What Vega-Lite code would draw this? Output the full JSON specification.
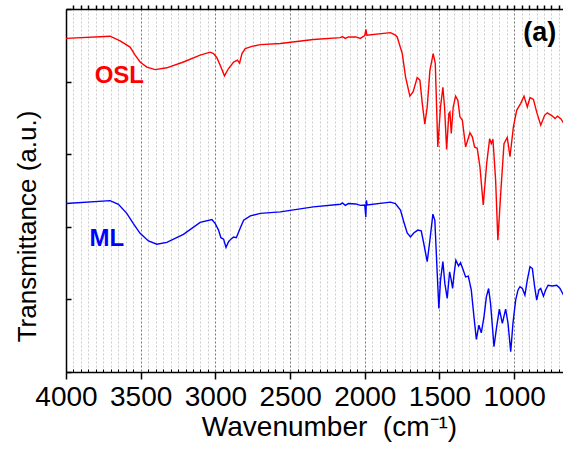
{
  "$schema": "https://vega.github.io/schema/vega-lite/v6.json",
  "width": 497,
  "height": 363,
  "autosize": "none",
  "padding": {"left": 66, "top": 9, "right": 0, "bottom": 78},
  "background": "white",
  "config": {"view": {"stroke": null}, "font": "Liberation Sans"},
  "datasets": {
    "spectra": [
      {"s":"OSL","wn":4000,"t":91.9},{"s":"OSL","wn":3705,"t":92.5},{"s":"OSL","wn":3638,"t":91.2},{"s":"OSL","wn":3571,"t":89.5},{"s":"OSL","wn":3537,"t":87.3},{"s":"OSL","wn":3504,"t":85.4},{"s":"OSL","wn":3459,"t":84.0},{"s":"OSL","wn":3403,"t":83.3},{"s":"OSL","wn":3325,"t":83.8},{"s":"OSL","wn":3214,"t":85.4},{"s":"OSL","wn":3102,"t":87.3},{"s":"OSL","wn":3035,"t":88.1},{"s":"OSL","wn":3013,"t":87.7},{"s":"OSL","wn":2990,"t":86.6},{"s":"OSL","wn":2968,"t":84.5},{"s":"OSL","wn":2939,"t":81.6},{"s":"OSL","wn":2912,"t":83.6},{"s":"OSL","wn":2878,"t":85.4},{"s":"OSL","wn":2852,"t":85.9},{"s":"OSL","wn":2838,"t":85.1},{"s":"OSL","wn":2822,"t":87.7},{"s":"OSL","wn":2800,"t":89.1},{"s":"OSL","wn":2755,"t":89.7},{"s":"OSL","wn":2699,"t":90.2},{"s":"OSL","wn":2565,"t":90.5},{"s":"OSL","wn":2344,"t":91.6},{"s":"OSL","wn":2163,"t":92.1},{"s":"OSL","wn":2150,"t":92.4},{"s":"OSL","wn":2130,"t":91.9},{"s":"OSL","wn":2110,"t":92.3},{"s":"OSL","wn":2060,"t":92.3},{"s":"OSL","wn":2030,"t":91.9},{"s":"OSL","wn":2000,"t":92.7},{"s":"OSL","wn":1992,"t":94.4},{"s":"OSL","wn":1986,"t":92.8},{"s":"OSL","wn":1828,"t":93.5},{"s":"OSL","wn":1795,"t":92.8},{"s":"OSL","wn":1783,"t":92.3},{"s":"OSL","wn":1749,"t":87.7},{"s":"OSL","wn":1727,"t":81.3},{"s":"OSL","wn":1698,"t":76.0},{"s":"OSL","wn":1676,"t":77.2},{"s":"OSL","wn":1649,"t":81.1},{"s":"OSL","wn":1631,"t":80.4},{"s":"OSL","wn":1615,"t":74.0},{"s":"OSL","wn":1598,"t":68.3},{"s":"OSL","wn":1582,"t":73.0},{"s":"OSL","wn":1564,"t":83.1},{"s":"OSL","wn":1542,"t":87.7},{"s":"OSL","wn":1528,"t":85.0},{"s":"OSL","wn":1511,"t":62.0},{"s":"OSL","wn":1493,"t":73.0},{"s":"OSL","wn":1477,"t":78.4},{"s":"OSL","wn":1466,"t":73.0},{"s":"OSL","wn":1452,"t":61.3},{"s":"OSL","wn":1437,"t":71.2},{"s":"OSL","wn":1430,"t":71.6},{"s":"OSL","wn":1421,"t":65.7},{"s":"OSL","wn":1408,"t":73.0},{"s":"OSL","wn":1392,"t":76.0},{"s":"OSL","wn":1377,"t":74.9},{"s":"OSL","wn":1363,"t":70.3},{"s":"OSL","wn":1347,"t":69.4},{"s":"OSL","wn":1325,"t":62.0},{"s":"OSL","wn":1296,"t":65.9},{"s":"OSL","wn":1280,"t":64.8},{"s":"OSL","wn":1265,"t":62.0},{"s":"OSL","wn":1247,"t":61.6},{"s":"OSL","wn":1229,"t":56.5},{"s":"OSL","wn":1207,"t":46.0},{"s":"OSL","wn":1184,"t":57.4},{"s":"OSL","wn":1164,"t":64.3},{"s":"OSL","wn":1153,"t":62.9},{"s":"OSL","wn":1142,"t":64.1},{"s":"OSL","wn":1124,"t":52.8},{"s":"OSL","wn":1109,"t":36.3},{"s":"OSL","wn":1090,"t":49.2},{"s":"OSL","wn":1068,"t":62.9},{"s":"OSL","wn":1046,"t":64.6},{"s":"OSL","wn":1028,"t":59.3},{"s":"OSL","wn":1005,"t":67.5},{"s":"OSL","wn":983,"t":72.1},{"s":"OSL","wn":956,"t":74.0},{"s":"OSL","wn":934,"t":76.0},{"s":"OSL","wn":912,"t":73.0},{"s":"OSL","wn":894,"t":75.6},{"s":"OSL","wn":871,"t":75.1},{"s":"OSL","wn":849,"t":71.6},{"s":"OSL","wn":822,"t":68.0},{"s":"OSL","wn":796,"t":70.7},{"s":"OSL","wn":778,"t":71.4},{"s":"OSL","wn":744,"t":70.5},{"s":"OSL","wn":726,"t":69.8},{"s":"OSL","wn":710,"t":70.5},{"s":"OSL","wn":688,"t":69.8},{"s":"OSL","wn":670,"t":68.6},
      {"s":"ML","wn":4000,"t":46.4},{"s":"ML","wn":3705,"t":47.2},{"s":"ML","wn":3649,"t":46.2},{"s":"ML","wn":3593,"t":43.7},{"s":"ML","wn":3549,"t":40.9},{"s":"ML","wn":3504,"t":38.2},{"s":"ML","wn":3448,"t":36.1},{"s":"ML","wn":3392,"t":35.2},{"s":"ML","wn":3325,"t":35.7},{"s":"ML","wn":3214,"t":37.9},{"s":"ML","wn":3102,"t":41.2},{"s":"ML","wn":3023,"t":42.0},{"s":"ML","wn":3001,"t":40.9},{"s":"ML","wn":2979,"t":39.1},{"s":"ML","wn":2963,"t":37.0},{"s":"ML","wn":2945,"t":36.6},{"s":"ML","wn":2929,"t":34.3},{"s":"ML","wn":2912,"t":35.9},{"s":"ML","wn":2896,"t":36.6},{"s":"ML","wn":2878,"t":37.2},{"s":"ML","wn":2860,"t":37.0},{"s":"ML","wn":2834,"t":39.6},{"s":"ML","wn":2811,"t":41.8},{"s":"ML","wn":2766,"t":43.0},{"s":"ML","wn":2699,"t":43.7},{"s":"ML","wn":2565,"t":44.1},{"s":"ML","wn":2344,"t":45.5},{"s":"ML","wn":2163,"t":46.2},{"s":"ML","wn":2150,"t":46.6},{"s":"ML","wn":2130,"t":45.9},{"s":"ML","wn":2110,"t":46.4},{"s":"ML","wn":2060,"t":46.3},{"s":"ML","wn":2030,"t":45.9},{"s":"ML","wn":2000,"t":46.0},{"s":"ML","wn":1993,"t":42.7},{"s":"ML","wn":1989,"t":47.3},{"s":"ML","wn":1984,"t":46.0},{"s":"ML","wn":1828,"t":46.8},{"s":"ML","wn":1795,"t":46.4},{"s":"ML","wn":1761,"t":44.6},{"s":"ML","wn":1739,"t":41.4},{"s":"ML","wn":1716,"t":38.3},{"s":"ML","wn":1694,"t":37.2},{"s":"ML","wn":1672,"t":38.3},{"s":"ML","wn":1645,"t":39.1},{"s":"ML","wn":1622,"t":38.9},{"s":"ML","wn":1605,"t":35.4},{"s":"ML","wn":1582,"t":30.4},{"s":"ML","wn":1564,"t":36.3},{"s":"ML","wn":1544,"t":43.5},{"s":"ML","wn":1531,"t":41.8},{"s":"ML","wn":1515,"t":27.2},{"s":"ML","wn":1504,"t":17.5},{"s":"ML","wn":1493,"t":25.3},{"s":"ML","wn":1477,"t":30.4},{"s":"ML","wn":1464,"t":24.4},{"s":"ML","wn":1448,"t":20.3},{"s":"ML","wn":1432,"t":27.6},{"s":"ML","wn":1421,"t":25.3},{"s":"ML","wn":1412,"t":23.0},{"s":"ML","wn":1403,"t":26.7},{"s":"ML","wn":1390,"t":30.8},{"s":"ML","wn":1372,"t":29.2},{"s":"ML","wn":1359,"t":30.1},{"s":"ML","wn":1341,"t":28.1},{"s":"ML","wn":1325,"t":26.2},{"s":"ML","wn":1307,"t":26.4},{"s":"ML","wn":1287,"t":22.6},{"s":"ML","wn":1269,"t":15.2},{"s":"ML","wn":1253,"t":9.0},{"s":"ML","wn":1236,"t":12.9},{"s":"ML","wn":1220,"t":10.8},{"s":"ML","wn":1202,"t":15.2},{"s":"ML","wn":1186,"t":20.7},{"s":"ML","wn":1171,"t":23.0},{"s":"ML","wn":1158,"t":18.9},{"s":"ML","wn":1135,"t":7.0},{"s":"ML","wn":1117,"t":12.5},{"s":"ML","wn":1099,"t":17.3},{"s":"ML","wn":1079,"t":13.4},{"s":"ML","wn":1057,"t":17.3},{"s":"ML","wn":1041,"t":13.4},{"s":"ML","wn":1023,"t":5.6},{"s":"ML","wn":1008,"t":13.4},{"s":"ML","wn":990,"t":19.8},{"s":"ML","wn":974,"t":22.6},{"s":"ML","wn":961,"t":23.5},{"s":"ML","wn":945,"t":23.0},{"s":"ML","wn":928,"t":21.2},{"s":"ML","wn":912,"t":25.3},{"s":"ML","wn":894,"t":29.0},{"s":"ML","wn":878,"t":28.5},{"s":"ML","wn":863,"t":23.5},{"s":"ML","wn":849,"t":19.8},{"s":"ML","wn":834,"t":22.6},{"s":"ML","wn":822,"t":23.0},{"s":"ML","wn":804,"t":20.9},{"s":"ML","wn":789,"t":22.6},{"s":"ML","wn":773,"t":23.9},{"s":"ML","wn":744,"t":23.7},{"s":"ML","wn":715,"t":23.9},{"s":"ML","wn":693,"t":23.0},{"s":"ML","wn":670,"t":21.2}
    ],
    "labels": [
      {"s":"OSL","wn":3643,"t":81.5},
      {"s":"ML","wn":3727,"t":36.6}
    ],
    "panel": [
      {"s":"(a)","wn":828,"t":93.3}
    ]
  },
  "encoding": {
    "y": {
      "field": "t", "type": "quantitative",
      "scale": {"domain": [0, 100], "nice": false, "zero": false},
      "axis": {
        "orient": "left", "values": [0, 20, 40, 60, 80, 100],
        "labels": false, "grid": false, "tickSize": -5, "tickColor": "black", "tickWidth": 1.5,
        "domainColor": "black", "domainWidth": 1.5,
        "title": "Transmittance (a.u.)", "titleFont": "Liberation Sans", "titleFontSize": 26,
        "titleFontWeight": "normal", "titleColor": "black",
        "titleAngle": -90, "titleBaseline": "alphabetic", "titleAlign": "center",
        "titleX": -31, "titleY": 217
      }
    }
  },
  "layer": [
    {
      "data": {"name": "spectra"},
      "mark": {"type": "line", "strokeWidth": 1.4, "clip": true},
      "encoding": {
        "x": {
          "field": "wn", "type": "quantitative",
          "scale": {"domain": [673, 4000], "reverse": true, "nice": false, "zero": false},
          "axis": {
            "orient": "bottom",
            "values": [1000, 1500, 2000, 2500, 3000, 3500, 4000],
            "format": "d",
            "labelFont": "Liberation Sans", "labelFontSize": 28, "labelColor": "black",
            "labelPadding": 4, "labelOverlap": false, "labelFlush": false, "labelBound": false,
            "tickSize": 7, "tickColor": "black", "tickWidth": 1.5,
            "domainColor": "black", "domainWidth": 1.5,
            "grid": true, "gridColor": "#777777", "gridDash": [2, 2], "gridWidth": 1,
            "title": "Wavenumber\u00a0\u00a0(cm⁻¹)", "titleFont": "Liberation Sans", "titleFontSize": 28,
            "titleFontWeight": "normal", "titleColor": "black",
            "titleBaseline": "alphabetic", "titleAlign": "center", "titleX": 263, "titleY": 63
          }
        },
        "color": {
          "field": "s", "type": "nominal",
          "scale": {"domain": ["OSL", "ML"], "range": ["#ff0000", "#0000ff"]},
          "legend": null
        }
      }
    },
    {
      "data": {"name": "labels"},
      "mark": {"type": "text", "font": "Liberation Sans", "fontWeight": "bold", "fontSize": 24, "align": "center", "baseline": "middle"},
      "encoding": {
        "x": {
          "field": "wn", "type": "quantitative",
          "scale": {"domain": [673, 4000], "reverse": true, "nice": false, "zero": false},
          "axis": {
            "orient": "bottom",
            "values": [700,750,800,850,900,950,1050,1100,1150,1200,1250,1300,1350,1400,1450,1550,1600,1650,1700,1750,1800,1850,1900,1950,2050,2100,2150,2200,2250,2300,2350,2400,2450,2550,2600,2650,2700,2750,2800,2850,2900,2950,3050,3100,3150,3200,3250,3300,3350,3400,3450,3550,3600,3650,3700,3750,3800,3850,3900,3950],
            "labels": false, "domain": false,
            "tickSize": -3, "tickColor": "black", "tickWidth": 1,
            "grid": true, "gridColor": "#cccccc", "gridDash": [2, 2], "gridWidth": 1,
            "title": null
          }
        },
        "text": {"field": "s"},
        "color": {
          "field": "s", "type": "nominal",
          "scale": {"domain": ["OSL", "ML"], "range": ["#ff0000", "#0000ff"]},
          "legend": null
        }
      }
    },
    {
      "data": {"name": "panel"},
      "mark": {"type": "text", "font": "Liberation Sans", "fontWeight": "bold", "fontSize": 27, "align": "center", "baseline": "middle", "color": "black"},
      "encoding": {
        "x": {
          "field": "wn", "type": "quantitative",
          "scale": {"domain": [673, 4000], "reverse": true, "nice": false, "zero": false},
          "axis": {
            "orient": "top",
            "values": [700,750,800,850,900,950,1000,1050,1100,1150,1200,1250,1300,1350,1400,1450,1500,1550,1600,1650,1700,1750,1800,1850,1900,1950,2000,2050,2100,2150,2200,2250,2300,2350,2400,2450,2500,2550,2600,2650,2700,2750,2800,2850,2900,2950,3000,3050,3100,3150,3200,3250,3300,3350,3400,3450,3500,3550,3600,3650,3700,3750,3800,3850,3900,3950],
            "labels": false, "grid": false,
            "tickSize": 4, "tickColor": "black", "tickWidth": 1.5,
            "domainColor": "black", "domainWidth": 1.5,
            "title": null
          }
        },
        "text": {"field": "s"},
        "color": {"value": "black"}
      }
    }
  ],
  "resolve": {"axis": {"x": "independent"}}
}
